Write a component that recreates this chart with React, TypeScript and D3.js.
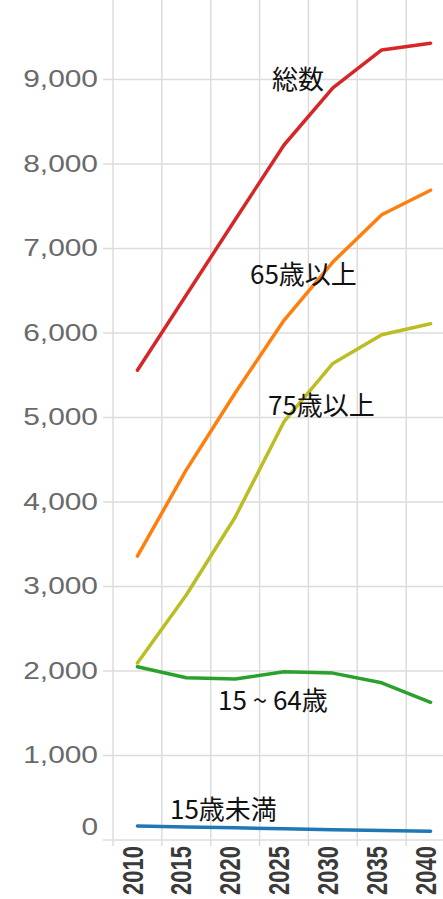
import React from "react";
import * as d3 from "d3";

const years = ["2010", "2015", "2020", "2025", "2030", "2035", "2040"];
const total = [5560, 6450, 7340, 8225, 8900, 9350, 9430];
const over65 = [3360, 4380, 5290, 6150, 6840, 7400, 7690];
const over75 = [2095, 2900, 3820, 4950, 5640, 5980, 6110];
const age15to64 = [2050, 1920, 1905, 1990, 1975, 1860, 1630];
const under15 = [165, 155, 145, 132, 122, 112, 105];
const yTicks = [0, 1000, 2000, 3000, 4000, 5000, 6000, 7000, 8000, 9000];

const series = [
  { name: "総数", values: total, color: "#d62728", lx: 272, ly: 89 },
  { name: "65歳以上", values: over65, color: "#ff7f0e", lx: 250, ly: 284 },
  { name: "75歳以上", values: over75, color: "#bcbd22", lx: 268, ly: 415 },
  { name: "15 ~ 64歳", values: age15to64, color: "#2ca02c", lx: 218, ly: 710 },
  { name: "15歳未満", values: under15, color: "#1f77b4", lx: 170, ly: 819 },
];

export default function App() {
  const W = 443, H = 899;
  const x = d3.scaleBand<string>().domain(years).range([113, 455]);
  const y = d3.scaleLinear().domain([0, 9000]).range([840, 79.5]);
  const line = d3
    .line<number>()
    .x((_, i) => (x(years[i]) as number) + x.bandwidth() / 2)
    .y((d) => y(d));
  const boundaries = years.map((yr) => x(yr) as number);

  return (
    <svg width={W} height={H} style={{ position: "absolute", left: 0, top: 0, background: "#fff" }}>
      {yTicks.map((t) => (
        <line key={"h" + t} x1={103} x2={W} y1={y(t)} y2={y(t)} stroke="#dcdcdc" strokeWidth={1.5} />
      ))}
      {boundaries.map((b, i) => (
        <line key={"v" + i} x1={b} x2={b} y1={0} y2={846} stroke="#dcdcdc" strokeWidth={1.5} />
      ))}
      {yTicks.map((t) => (
        <g key={"yl" + t} transform={`translate(98,${t === 0 ? y(t) - 13 : y(t)}) scale(1.3,1)`}>
          <text
            textAnchor="end"
            dominantBaseline="central"
            fontFamily="Liberation Sans, Arial, sans-serif"
            fontSize={23}
            fill="#6a6a6a"
          >
            {d3.format(",")(t)}
          </text>
        </g>
      ))}
      {years.map((yr) => (
        <g key={"xl" + yr} transform={`translate(${(x(yr) as number) + x.bandwidth() / 2 - 5},846) scale(1.3,1) rotate(-90)`}>
          <text
            textAnchor="end"
            dominantBaseline="central"
            fontFamily="Liberation Sans, Arial, sans-serif"
            fontWeight="bold"
            fontSize={22}
            fill="#3a3a3a"
          >
            {yr}
          </text>
        </g>
      ))}
      {series.map((s) => (
        <path
          key={s.name}
          d={line(s.values) || ""}
          fill="none"
          stroke={s.color}
          strokeWidth={3.5}
          strokeLinejoin="round"
          strokeLinecap="round"
        />
      ))}
      {series.map((s) => (
        <text
          key={"t" + s.name}
          x={s.lx}
          y={s.ly}
          fontFamily="Noto Sans CJK JP, sans-serif"
          fontSize={26}
          fill="#111"
        >
          {s.name}
        </text>
      ))}
    </svg>
  );
}
